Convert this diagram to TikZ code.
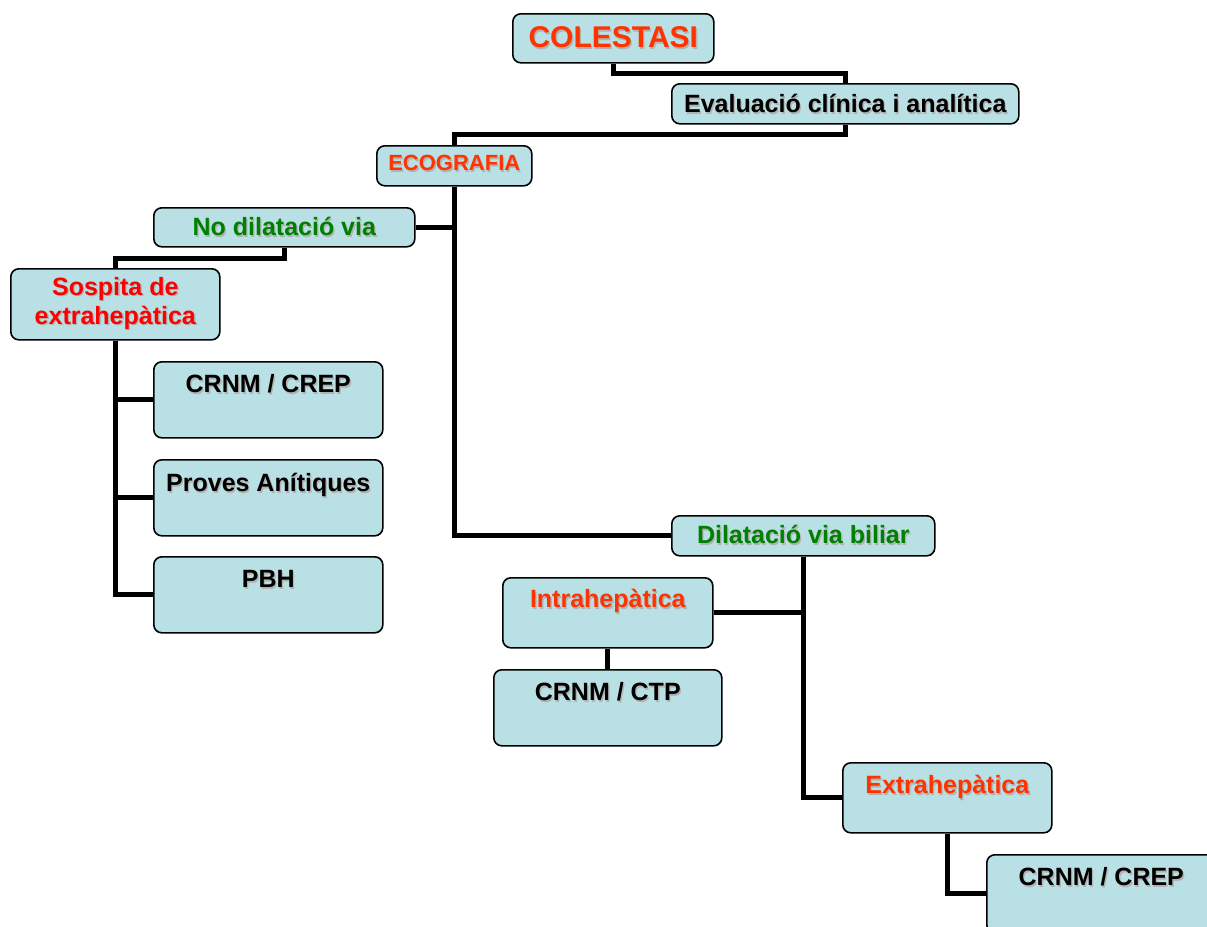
\documentclass[tikz,border=0pt]{standalone}
\usepackage{fontspec}
\setmainfont{Liberation Sans}
\definecolor{boxfill}{RGB}{185,224,228}
\definecolor{orred}{RGB}{255,51,0}
\definecolor{grn}{RGB}{0,128,0}
\definecolor{rd}{RGB}{255,0,0}
\newcommand\shd[1]{\makebox[0pt][l]{\kern1.3pt\raisebox{-1.3pt}{\color{black!30}#1}}#1}
\begin{document}
\begin{tikzpicture}[x=1pt,y=-1pt,
  box/.style={draw=black, line width=1.6pt, fill=boxfill, rounded corners=8pt,
    inner sep=0pt, anchor=north west, font=\bfseries\fontsize{25}{29}\selectfont},
  sz/.style n args={4}{minimum width=#1, minimum height=#2, text height=#3, text depth=#4},
  conn/.style={line width=5pt, line join=miter}]
\clip (0,0) rectangle (1207,926);
\useasboundingbox (0,0) rectangle (1207,926);

\node[box, sz={201}{49}{34}{15}, text=orred, font=\bfseries\fontsize{30}{34}\selectfont] (col) at (512,13) {\shd{COLESTASI}};
\node[box, sz={347}{40}{29}{11}] (eval) at (671,83) {\shd{Evaluació clínica i analítica}};
\node[box, sz={155}{40}{25}{15}, text=orred, font=\bfseries\fontsize{22}{26}\selectfont] (eco) at (376,145) {\shd{ECOGRAFIA}};
\node[box, sz={261}{39}{28}{11}, text=grn] (nod) at (153,207) {\shd{No dilatació via}};
\node[box, minimum width=209, minimum height=71, align=center, text=rd] (sos) at (10,268) {\shd{Sospita de}\\\shd{extrahepàtica}};
\node[box, sz={229}{76}{31}{45}] (crep1) at (153,361) {\shd{CRNM / CREP}};
\node[box, sz={229}{76}{32}{44}] (prov) at (153,459) {\shd{Proves Anítiques}};
\node[box, sz={229}{76}{31}{45}] (pbh) at (153,556) {\shd{PBH}};
\node[box, sz={263}{40}{28}{12}, text=grn] (dil) at (671,515) {\shd{Dilatació via biliar}};
\node[box, sz={210}{70}{30}{40}, text=orred] (intra) at (502,577) {\shd{Intrahepàtica}};
\node[box, sz={228}{76}{31}{45}] (ctp) at (493,669) {\shd{CRNM / CTP}};
\node[box, sz={209}{70}{31}{39}, text=orred] (ext) at (842,762) {\shd{Extrahepàtica}};
\node[box, sz={229}{78}{31}{47}] (crep2) at (986,854) {\shd{CRNM / CREP}};

\draw[conn] (col.south) -- ++(0,10) -| (eval.north);
\draw[conn] (eval.south) -- ++(0,10) -| (eco.north);
\draw[conn] (eco.south) |- (dil.west);
\draw[conn] (nod.east) -- (nod.east -| eco.south);
\draw[conn] (nod.south) -- ++(0,11) -| (sos.north);
\draw[conn] (sos.south) |- (pbh.west);
\draw[conn] (crep1.west) -- (crep1.west -| sos.south);
\draw[conn] (prov.west) -- (prov.west -| sos.south);
\draw[conn] (dil.south) |- (ext.west);
\draw[conn] (intra.east) -- (intra.east -| dil.south);
\draw[conn] (intra.south) -- (ctp.north);
\draw[conn] (ext.south) |- (crep2.west);
\end{tikzpicture}
\end{document}
